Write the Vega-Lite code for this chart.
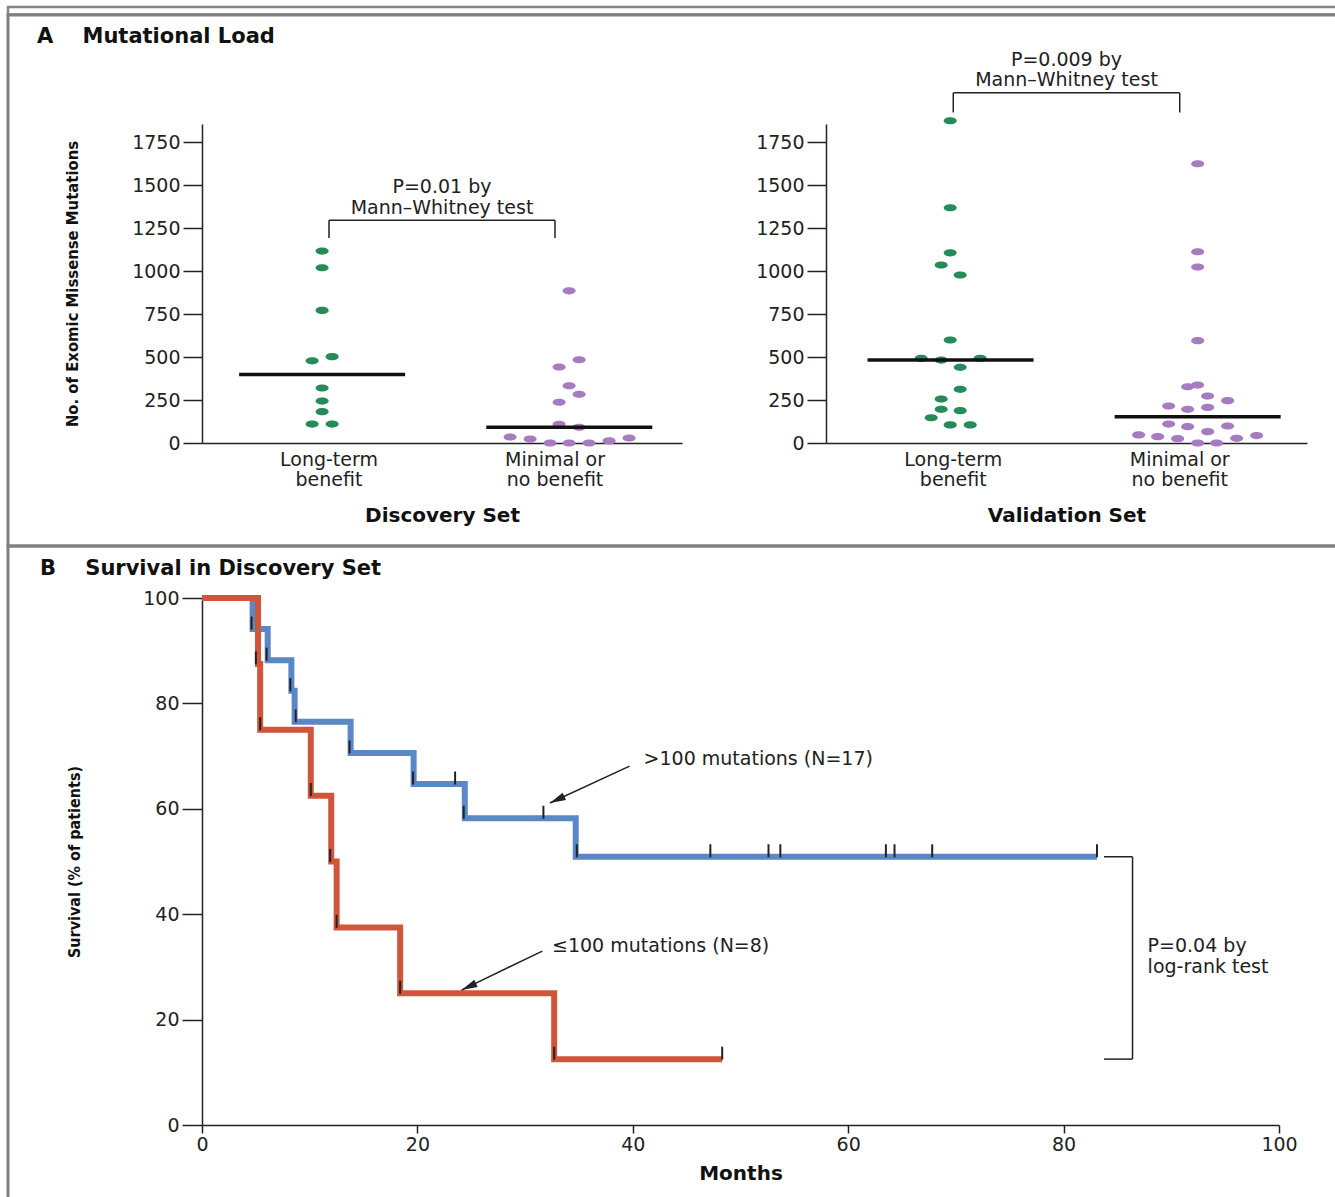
{
  "$schema": "https://vega.github.io/schema/vega-lite/v6.json",
  "background": "white",
  "padding": {"left": 6, "top": 0, "right": 0, "bottom": 0},
  "spacing": 0,
  "bounds": "flush",
  "resolve": {"scale": {"color": "independent"}},
  "config": {
    "font": "DejaVu Sans",
    "view": {"stroke": null},
    "axis": {"labelFont": "DejaVu Sans", "labelFontSize": 19, "labelColor": "#222", "domainColor": "#222", "domainWidth": 1.5, "tickColor": "#222", "tickWidth": 1.5, "grid": false, "titleColor": "#111", "labelFlush": false, "labelOverlap": false},
    "text": {"font": "DejaVu Sans", "fontSize": 19, "color": "#222"}
  },
  "datasets": {
    "discovery": [
      {"group": "Long-term benefit", "jitter": -0.7, "mutations": 1116},
      {"group": "Long-term benefit", "jitter": -0.7, "mutations": 1019},
      {"group": "Long-term benefit", "jitter": -0.7, "mutations": 771},
      {"group": "Long-term benefit", "jitter": -1.7, "mutations": 478},
      {"group": "Long-term benefit", "jitter": 0.3, "mutations": 502},
      {"group": "Long-term benefit", "jitter": -0.7, "mutations": 320},
      {"group": "Long-term benefit", "jitter": -0.7, "mutations": 244},
      {"group": "Long-term benefit", "jitter": -0.7, "mutations": 182},
      {"group": "Long-term benefit", "jitter": -1.7, "mutations": 110},
      {"group": "Long-term benefit", "jitter": 0.3, "mutations": 110},
      {"group": "Minimal or no benefit", "jitter": 1.4, "mutations": 885},
      {"group": "Minimal or no benefit", "jitter": 2.4, "mutations": 484},
      {"group": "Minimal or no benefit", "jitter": 0.4, "mutations": 442},
      {"group": "Minimal or no benefit", "jitter": 1.4, "mutations": 333},
      {"group": "Minimal or no benefit", "jitter": 2.4, "mutations": 283},
      {"group": "Minimal or no benefit", "jitter": 0.4, "mutations": 237},
      {"group": "Minimal or no benefit", "jitter": 0.4, "mutations": 109},
      {"group": "Minimal or no benefit", "jitter": 2.4, "mutations": 91},
      {"group": "Minimal or no benefit", "jitter": -4.5, "mutations": 35},
      {"group": "Minimal or no benefit", "jitter": -2.5, "mutations": 23},
      {"group": "Minimal or no benefit", "jitter": -0.5, "mutations": 0},
      {"group": "Minimal or no benefit", "jitter": 1.4, "mutations": 0},
      {"group": "Minimal or no benefit", "jitter": 3.4, "mutations": 0},
      {"group": "Minimal or no benefit", "jitter": 5.4, "mutations": 12},
      {"group": "Minimal or no benefit", "jitter": 7.4, "mutations": 29}
    ],
    "validation": [
      {"group": "Long-term benefit", "jitter": -0.3, "mutations": 1874},
      {"group": "Long-term benefit", "jitter": -0.3, "mutations": 1368},
      {"group": "Long-term benefit", "jitter": -0.3, "mutations": 1106},
      {"group": "Long-term benefit", "jitter": -1.2, "mutations": 1035},
      {"group": "Long-term benefit", "jitter": 0.7, "mutations": 977},
      {"group": "Long-term benefit", "jitter": -0.3, "mutations": 599},
      {"group": "Long-term benefit", "jitter": -3.2, "mutations": 492},
      {"group": "Long-term benefit", "jitter": -1.2, "mutations": 482},
      {"group": "Long-term benefit", "jitter": 2.7, "mutations": 492},
      {"group": "Long-term benefit", "jitter": 0.7, "mutations": 440},
      {"group": "Long-term benefit", "jitter": 0.7, "mutations": 312},
      {"group": "Long-term benefit", "jitter": -1.2, "mutations": 256},
      {"group": "Long-term benefit", "jitter": -1.2, "mutations": 196},
      {"group": "Long-term benefit", "jitter": 0.7, "mutations": 188},
      {"group": "Long-term benefit", "jitter": -2.2, "mutations": 147},
      {"group": "Long-term benefit", "jitter": -0.3, "mutations": 105},
      {"group": "Long-term benefit", "jitter": 1.7, "mutations": 105},
      {"group": "Minimal or no benefit", "jitter": 1.8, "mutations": 1624},
      {"group": "Minimal or no benefit", "jitter": 1.8, "mutations": 1112},
      {"group": "Minimal or no benefit", "jitter": 1.8, "mutations": 1023},
      {"group": "Minimal or no benefit", "jitter": 1.8, "mutations": 595},
      {"group": "Minimal or no benefit", "jitter": 0.8, "mutations": 327},
      {"group": "Minimal or no benefit", "jitter": 1.8, "mutations": 337},
      {"group": "Minimal or no benefit", "jitter": 2.8, "mutations": 273},
      {"group": "Minimal or no benefit", "jitter": 4.8, "mutations": 246},
      {"group": "Minimal or no benefit", "jitter": -1.1, "mutations": 215},
      {"group": "Minimal or no benefit", "jitter": 0.8, "mutations": 196},
      {"group": "Minimal or no benefit", "jitter": 2.8, "mutations": 207},
      {"group": "Minimal or no benefit", "jitter": -1.1, "mutations": 110},
      {"group": "Minimal or no benefit", "jitter": 0.8, "mutations": 95},
      {"group": "Minimal or no benefit", "jitter": 4.8, "mutations": 99},
      {"group": "Minimal or no benefit", "jitter": 2.8, "mutations": 66},
      {"group": "Minimal or no benefit", "jitter": -4.1, "mutations": 47},
      {"group": "Minimal or no benefit", "jitter": -2.2, "mutations": 37},
      {"group": "Minimal or no benefit", "jitter": -0.2, "mutations": 25},
      {"group": "Minimal or no benefit", "jitter": 1.8, "mutations": 0},
      {"group": "Minimal or no benefit", "jitter": 3.7, "mutations": 0},
      {"group": "Minimal or no benefit", "jitter": 5.7, "mutations": 27},
      {"group": "Minimal or no benefit", "jitter": 7.7, "mutations": 43}
    ],
    "bracketDiscovery": [
      {"pos": 1, "pos2": 2, "mutations": 1296, "mutations2": 1296},
      {"pos": 1, "pos2": 1, "mutations": 1192, "mutations2": 1296},
      {"pos": 2, "pos2": 2, "mutations": 1192, "mutations2": 1296}
    ],
    "noteDiscovery": [
      {"pos": 1.5, "mutations": 1491, "label": "P=0.01 by\nMann–Whitney test"}
    ],
    "bracketValidation": [
      {"pos": 1, "pos2": 2, "mutations": 2036, "mutations2": 2036},
      {"pos": 1, "pos2": 1, "mutations": 1922, "mutations2": 2036},
      {"pos": 2, "pos2": 2, "mutations": 1922, "mutations2": 2036}
    ],
    "noteValidation": [
      {"pos": 1.5, "mutations": 2230, "label": "P=0.009 by\nMann–Whitney test"}
    ],
    "km": [
      {"group": ">100 mutations", "months": 0, "survival": 100},
      {"group": ">100 mutations", "months": 4.7, "survival": 94.1},
      {"group": ">100 mutations", "months": 6.1, "survival": 88.2},
      {"group": ">100 mutations", "months": 8.3, "survival": 82.4},
      {"group": ">100 mutations", "months": 8.6, "survival": 76.5},
      {"group": ">100 mutations", "months": 13.8, "survival": 70.6},
      {"group": ">100 mutations", "months": 19.65, "survival": 64.7},
      {"group": ">100 mutations", "months": 24.4, "survival": 58.2},
      {"group": ">100 mutations", "months": 34.7, "survival": 50.9},
      {"group": ">100 mutations", "months": 83.1, "survival": 50.9},
      {"group": "≤100 mutations", "months": 0, "survival": 100},
      {"group": "≤100 mutations", "months": 5.2, "survival": 87.5},
      {"group": "≤100 mutations", "months": 5.4, "survival": 75},
      {"group": "≤100 mutations", "months": 10.1, "survival": 62.5},
      {"group": "≤100 mutations", "months": 12.0, "survival": 50},
      {"group": "≤100 mutations", "months": 12.5, "survival": 37.5},
      {"group": "≤100 mutations", "months": 18.4, "survival": 25},
      {"group": "≤100 mutations", "months": 32.7, "survival": 12.5},
      {"group": "≤100 mutations", "months": 48.3, "survival": 12.5}
    ],
    "censor": [
      {"months": 4.6, "survival": 94.1}, {"months": 6.0, "survival": 88.2}, {"months": 8.2, "survival": 82.4},
      {"months": 8.7, "survival": 76.5}, {"months": 13.7, "survival": 70.6}, {"months": 19.6, "survival": 64.7},
      {"months": 23.5, "survival": 64.7}, {"months": 24.3, "survival": 58.2}, {"months": 31.7, "survival": 58.2},
      {"months": 34.8, "survival": 50.9}, {"months": 47.2, "survival": 50.9}, {"months": 52.6, "survival": 50.9},
      {"months": 53.7, "survival": 50.9}, {"months": 63.5, "survival": 50.9}, {"months": 64.3, "survival": 50.9},
      {"months": 67.8, "survival": 50.9}, {"months": 83.1, "survival": 50.9},
      {"months": 5.0, "survival": 87.5}, {"months": 5.4, "survival": 75}, {"months": 10.1, "survival": 62.5},
      {"months": 11.9, "survival": 50}, {"months": 12.5, "survival": 37.5}, {"months": 18.4, "survival": 25},
      {"months": 32.7, "survival": 12.5}, {"months": 48.3, "survival": 12.5}
    ],
    "logrank": [
      {"months": 83.75, "months2": 86.4, "survival": 50.9, "survival2": 50.9},
      {"months": 83.75, "months2": 86.4, "survival": 12.5, "survival2": 12.5},
      {"months": 86.4, "months2": 86.4, "survival": 12.5, "survival2": 50.9}
    ],
    "arrows": [
      {"months": 39.7, "survival": 68.1, "months2": 32.3, "survival2": 61.1},
      {"months": 31.6, "survival": 33.0, "months2": 24.1, "survival2": 25.6}
    ],
    "kmLabels": [
      {"months": 41.0, "survival": 69.4, "label": ">100 mutations (N=17)"},
      {"months": 32.5, "survival": 34.0, "label": "≤100 mutations (N=8)"},
      {"months": 87.8, "survival": 33.9, "label": "P=0.04 by\nlog-rank test"}
    ]
  },
  "vconcat": [
    {
      "width": 1332,
      "height": 7.5,
      "view": {"stroke": "#858585", "strokeWidth": 2.5},
      "data": {"values": [{}]},
      "mark": {"type": "text", "text": ""}
    },
    {
      "width": 1332,
      "height": 531,
      "view": {"stroke": "#808080", "strokeWidth": 3},
      "title": {"text": "A\u00a0\u00a0\u00a0\u00a0Mutational Load", "anchor": "start", "frame": "group", "offset": -32, "dx": 29, "fontSize": 21, "fontWeight": "bold", "font": "DejaVu Sans", "color": "#111"},
      "layer": [
        {
          "data": {"name": "discovery"},
          "encoding": {
            "y": {"field": "mutations", "type": "quantitative",
              "scale": {"domain": [0, 1855], "range": [428, 109], "nice": false, "zero": false},
              "axis": {"orient": "left", "offset": -194, "values": [0, 250, 500, 750, 1000, 1250, 1500, 1750], "format": "d", "tickSize": 19, "labelPadding": 3,
                "title": "No. of Exomic Missense Mutations", "titleFont": "Liberation Sans Narrow, DejaVu Sans Condensed, sans-serif", "titleFontSize": 16.5, "titleFontWeight": "bold", "titlePadding": 51}}
          },
          "layer": [
            {
              "mark": {"type": "point", "shape": "M-1,0A1,0.55,0,1,0,1,0A1,0.55,0,1,0,-1,0Z", "filled": true, "size": 170, "opacity": 1},
              "encoding": {
                "x": {"field": "group", "type": "nominal", "sort": ["Long-term benefit", "Minimal or no benefit"],
                  "scale": {"range": [194, 674], "paddingInner": 0.2, "paddingOuter": 0.162},
                  "axis": {"orient": "bottom", "offset": -103, "ticks": false, "labelAngle": 0, "labelPadding": 7, "labelLineHeight": 20,
                    "labelExpr": "datum.value == 'Long-term benefit' ? ['Long-term', 'benefit'] : ['Minimal or', 'no benefit']",
                    "title": "Discovery Set", "titleFontSize": 20, "titleFontWeight": "bold", "titlePadding": 16}},
                "xOffset": {"field": "jitter", "type": "quantitative", "scale": {"domain": [-9.05, 9.05], "range": [0, 181]}},
                "color": {"field": "group", "type": "nominal", "scale": {"domain": ["Long-term benefit", "Minimal or no benefit"], "range": ["#248b59", "#a67bc0"]}, "legend": null}
              }
            },
            {
              "transform": [{"aggregate": [{"op": "median", "field": "mutations", "as": "mutations"}, {"op": "mean", "field": "jitter", "as": "jitter"}], "groupby": ["group"]}],
              "mark": {"type": "tick", "size": 166, "thickness": 3.5, "color": "#111", "opacity": 1},
              "encoding": {
                "x": {"field": "group", "type": "nominal", "sort": ["Long-term benefit", "Minimal or no benefit"],
                  "scale": {"range": [194, 674], "paddingInner": 0.2, "paddingOuter": 0.162}, "axis": null},
                "xOffset": {"field": "jitter", "type": "quantitative", "scale": {"domain": [-9.05, 9.05], "range": [0, 181]}}
              }
            },
            {
              "data": {"name": "bracketDiscovery"},
              "mark": {"type": "rule", "color": "#222", "strokeWidth": 1.5},
              "encoding": {
                "x": {"field": "pos", "type": "quantitative", "scale": {"domain": [0.438, 2.562], "range": [194, 674], "nice": false, "zero": false}, "axis": null},
                "x2": {"field": "pos2"},
                "y2": {"field": "mutations2"}
              }
            },
            {
              "data": {"name": "noteDiscovery"},
              "mark": {"type": "text", "align": "center", "baseline": "middle", "lineBreak": "\n", "lineHeight": 21, "fontSize": 19},
              "encoding": {
                "x": {"field": "pos", "type": "quantitative", "scale": {"domain": [0.438, 2.562], "range": [194, 674], "nice": false, "zero": false}, "axis": null},
                "text": {"field": "label"}
              }
            }
          ],
          "resolve": {"scale": {"x": "independent"}, "axis": {"x": "independent"}}
        },
        {
          "data": {"name": "validation"},
          "encoding": {
            "y": {"field": "mutations", "type": "quantitative",
              "scale": {"domain": [0, 1855], "range": [428, 109], "nice": false, "zero": false},
              "axis": {"orient": "left", "offset": -818, "values": [0, 250, 500, 750, 1000, 1250, 1500, 1750], "format": "d", "tickSize": 19, "labelPadding": 3, "title": null}}
          },
          "layer": [
            {
              "mark": {"type": "point", "shape": "M-1,0A1,0.55,0,1,0,1,0A1,0.55,0,1,0,-1,0Z", "filled": true, "size": 170, "opacity": 1},
              "encoding": {
                "x": {"field": "group", "type": "nominal", "sort": ["Long-term benefit", "Minimal or no benefit"],
                  "scale": {"range": [818, 1299], "paddingInner": 0.2, "paddingOuter": 0.162},
                  "axis": {"orient": "bottom", "offset": -103, "ticks": false, "labelAngle": 0, "labelPadding": 7, "labelLineHeight": 20,
                    "labelExpr": "datum.value == 'Long-term benefit' ? ['Long-term', 'benefit'] : ['Minimal or', 'no benefit']",
                    "title": "Validation Set", "titleFontSize": 20, "titleFontWeight": "bold", "titlePadding": 16}},
                "xOffset": {"field": "jitter", "type": "quantitative", "scale": {"domain": [-9.05, 9.05], "range": [0, 181]}},
                "color": {"field": "group", "type": "nominal", "scale": {"domain": ["Long-term benefit", "Minimal or no benefit"], "range": ["#248b59", "#a67bc0"]}, "legend": null}
              }
            },
            {
              "transform": [{"aggregate": [{"op": "median", "field": "mutations", "as": "mutations"}, {"op": "mean", "field": "jitter", "as": "jitter"}], "groupby": ["group"]}],
              "mark": {"type": "tick", "size": 166, "thickness": 3.5, "color": "#111", "opacity": 1},
              "encoding": {
                "x": {"field": "group", "type": "nominal", "sort": ["Long-term benefit", "Minimal or no benefit"],
                  "scale": {"range": [818, 1299], "paddingInner": 0.2, "paddingOuter": 0.162}, "axis": null},
                "xOffset": {"field": "jitter", "type": "quantitative", "scale": {"domain": [-9.05, 9.05], "range": [0, 181]}}
              }
            },
            {
              "data": {"name": "bracketValidation"},
              "mark": {"type": "rule", "color": "#222", "strokeWidth": 1.5},
              "encoding": {
                "x": {"field": "pos", "type": "quantitative", "scale": {"domain": [0.438, 2.562], "range": [818, 1299], "nice": false, "zero": false}, "axis": null},
                "x2": {"field": "pos2"},
                "y2": {"field": "mutations2"}
              }
            },
            {
              "data": {"name": "noteValidation"},
              "mark": {"type": "text", "align": "center", "baseline": "middle", "lineBreak": "\n", "lineHeight": 20, "fontSize": 19},
              "encoding": {
                "x": {"field": "pos", "type": "quantitative", "scale": {"domain": [0.438, 2.562], "range": [818, 1299], "nice": false, "zero": false}, "axis": null},
                "text": {"field": "label"}
              }
            }
          ],
          "resolve": {"scale": {"x": "independent"}, "axis": {"x": "independent"}}
        }
      ],
      "resolve": {"scale": {"x": "independent", "y": "independent"}, "axis": {"x": "independent", "y": "independent"}}
    },
    {
      "width": 1332,
      "height": 660,
      "view": {"stroke": "#808080", "strokeWidth": 3},
      "title": {"text": "B\u00a0\u00a0\u00a0\u00a0Survival in Discovery Set", "anchor": "start", "frame": "group", "offset": -33, "dx": 32, "fontSize": 21, "fontWeight": "bold", "font": "DejaVu Sans", "color": "#111"},
      "encoding": {
        "x": {"field": "months", "type": "quantitative",
          "scale": {"domain": [0, 100], "range": [194, 1271], "nice": false, "zero": false},
          "axis": {"orient": "bottom", "offset": -81, "values": [0, 20, 40, 60, 80, 100], "tickSize": 8, "labelPadding": 2,
            "title": "Months", "titleFontSize": 20, "titleFontWeight": "bold", "titlePadding": 9}},
        "y": {"field": "survival", "type": "quantitative",
          "scale": {"domain": [0, 100], "range": [579, 52], "nice": false, "zero": false},
          "axis": {"orient": "left", "offset": -194, "values": [0, 20, 40, 60, 80, 100], "tickSize": 20, "labelPadding": 3,
            "title": "Survival (% of patients)", "titleFont": "Liberation Sans Narrow, DejaVu Sans Condensed, sans-serif", "titleFontSize": 16, "titleFontWeight": "bold", "titlePadding": 60}}
      },
      "layer": [
        {
          "data": {"name": "km"},
          "mark": {"type": "line", "interpolate": "step-after", "strokeWidth": 6, "strokeJoin": "miter", "strokeCap": "butt"},
          "encoding": {
            "color": {"field": "group", "type": "nominal", "scale": {"domain": [">100 mutations", "≤100 mutations"], "range": ["#5a87c6", "#d0553b"]}, "legend": null}
          }
        },
        {
          "data": {"name": "censor"},
          "mark": {"type": "tick", "orient": "vertical", "size": 13, "thickness": 2, "color": "#222", "opacity": 1, "yOffset": -6},
          "encoding": {}
        },
        {
          "data": {"name": "logrank"},
          "mark": {"type": "rule", "color": "#222", "strokeWidth": 1.5},
          "encoding": {"x2": {"field": "months2"}, "y2": {"field": "survival2"}}
        },
        {
          "data": {"name": "arrows"},
          "mark": {"type": "rule", "color": "#222", "strokeWidth": 1.5},
          "encoding": {"x2": {"field": "months2"}, "y2": {"field": "survival2"}}
        },
        {
          "data": {"name": "arrows"},
          "mark": {"type": "point", "shape": "M0,0L-0.55,2.2L0.55,2.2Z", "filled": true, "size": 210, "angle": 245, "color": "#222", "opacity": 1},
          "encoding": {"x": {"field": "months2", "type": "quantitative"}, "y": {"field": "survival2", "type": "quantitative"}}
        },
        {
          "data": {"name": "kmLabels"},
          "mark": {"type": "text", "align": "left", "baseline": "middle", "lineBreak": "\n", "lineHeight": 21, "fontSize": 19},
          "encoding": {"text": {"field": "label"}}
        }
      ]
    }
  ]
}
